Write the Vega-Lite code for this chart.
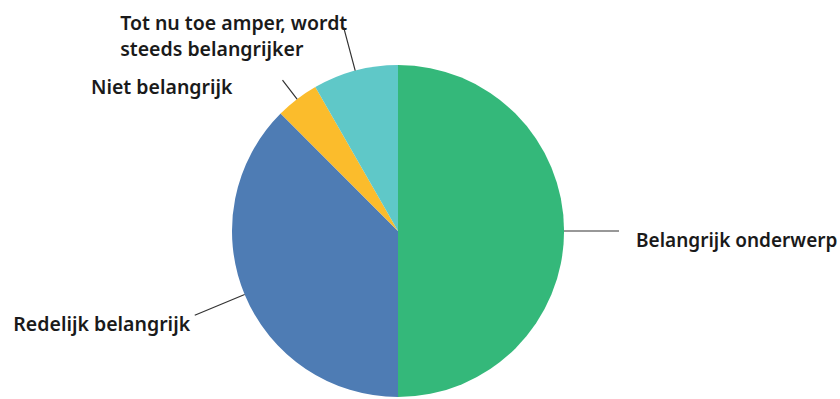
{
  "$schema": "https://vega.github.io/schema/vega-lite/v6.json",
  "autosize": {"type": "none"},
  "width": 796,
  "height": 462,
  "padding": {"left": 0, "top": 0, "right": 44, "bottom": 0},
  "background": "white",
  "config": {"view": {"stroke": null}},
  "data": {"values": [
    {"cat": "Belangrijk onderwerp", "value": 50, "order": 1},
    {"cat": "Redelijk belangrijk", "value": 37.5, "order": 2},
    {"cat": "Niet belangrijk", "value": 4.2, "order": 3},
    {"cat": "Tot nu toe amper, wordt\nsteeds belangrijker", "value": 8.3, "order": 4}
  ]},
  "encoding": {
    "theta": {"field": "value", "type": "quantitative", "stack": true},
    "order": {"field": "order", "type": "quantitative"}
  },
  "layer": [
    {
      "mark": {"type": "arc", "radius": 166},
      "encoding": {
        "color": {
          "field": "cat", "type": "nominal", "legend": null,
          "scale": {
            "domain": ["Belangrijk onderwerp", "Redelijk belangrijk", "Niet belangrijk", "Tot nu toe amper, wordt\nsteeds belangrijker"],
            "range": ["#34B87A", "#4E7CB4", "#FBBC2C", "#5FC8C8"]
          }
        }
      }
    },
    {
      "mark": {"type": "arc", "radius": 221, "radius2": 166, "padAngle": 3.14, "filled": false, "stroke": "#333333", "strokeWidth": 1.2},
      "encoding": {"strokeOpacity": {"condition": {"test": "datum.order === 1", "value": 1}, "value": 0}}
    },
    {
      "mark": {"type": "arc", "radius": 220, "radius2": 166, "padAngle": 3.14, "filled": false, "stroke": "#333333", "strokeWidth": 1.2},
      "encoding": {"strokeOpacity": {"condition": {"test": "datum.order === 2", "value": 1}, "value": 0}}
    },
    {
      "mark": {"type": "arc", "radius": 190, "radius2": 166, "padAngle": 3.14, "filled": false, "stroke": "#333333", "strokeWidth": 1.2},
      "encoding": {"strokeOpacity": {"condition": {"test": "datum.order === 3", "value": 1}, "value": 0}}
    },
    {
      "mark": {"type": "arc", "radius": 211, "radius2": 166, "padAngle": 3.14, "filled": false, "stroke": "#333333", "strokeWidth": 1.2},
      "encoding": {"strokeOpacity": {"condition": {"test": "datum.order === 4", "value": 1}, "value": 0}}
    },
    {
      "mark": {"type": "text", "radius": 238, "align": "left", "baseline": "middle", "dy": 10, "font": "Noto Sans", "fontWeight": 600, "fontSize": 19, "color": "#1a1a1a"},
      "encoding": {"text": {"condition": {"test": "datum.order === 1", "field": "cat"}, "value": ""}}
    },
    {
      "mark": {"type": "text", "radius": 225, "align": "right", "baseline": "middle", "dy": 8, "font": "Noto Sans", "fontWeight": 600, "fontSize": 19.5, "color": "#1a1a1a"},
      "encoding": {"text": {"condition": {"test": "datum.order === 2", "field": "cat"}, "value": ""}}
    },
    {
      "mark": {"type": "text", "radius": 190, "align": "right", "baseline": "middle", "dx": -50, "dy": 8, "font": "Noto Sans", "fontWeight": 600, "fontSize": 19.5, "color": "#1a1a1a"},
      "encoding": {"text": {"condition": {"test": "datum.order === 3", "field": "cat"}, "value": ""}}
    },
    {
      "mark": {"type": "text", "radius": 205, "align": "left", "baseline": "middle", "dx": -225, "dy": -9, "lineBreak": "\n", "lineHeight": 26, "font": "Noto Sans", "fontWeight": 600, "fontSize": 19.5, "color": "#1a1a1a"},
      "encoding": {"text": {"condition": {"test": "datum.order === 4", "field": "cat"}, "value": ""}}
    }
  ]
}
